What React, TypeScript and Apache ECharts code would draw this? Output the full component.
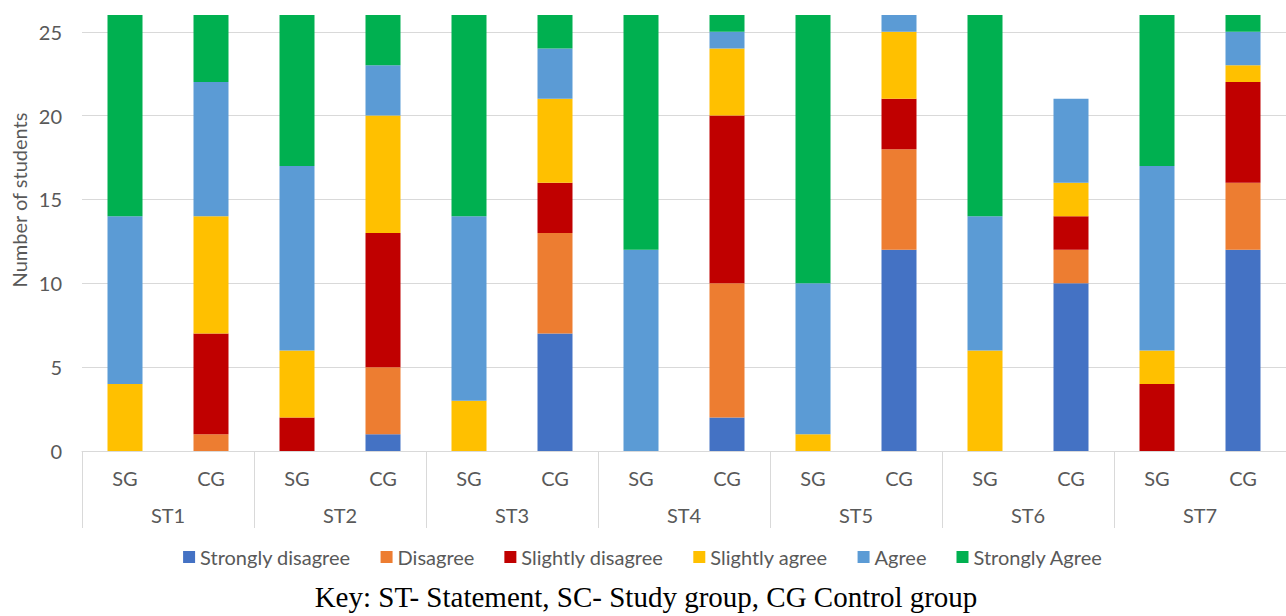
import React, { useEffect, useRef } from "react";
import * as echarts from "echarts";

const groupLabels = ["SG", "CG", "SG", "CG", "SG", "CG", "SG", "CG", "SG", "CG", "SG", "CG", "SG", "CG"];
const statements = ["ST1", "ST2", "ST3", "ST4", "ST5", "ST6", "ST7"];
const yTicks = [0, 5, 10, 15, 20, 25];

const seriesNames = ["Strongly disagree", "Disagree", "Slightly disagree", "Slightly agree", "Agree", "Strongly Agree"];
const seriesColors = ["#4472C4", "#ED7D31", "#C00000", "#FFC000", "#5B9BD5", "#00B050"];

const stronglyDisagree = [0, 0, 0, 1, 0, 7, 0, 2, 0, 12, 0, 10, 0, 12];
const disagree = [0, 1, 0, 4, 0, 6, 0, 8, 0, 6, 0, 2, 0, 4];
const slightlyDisagree = [0, 6, 2, 8, 0, 3, 0, 10, 0, 3, 0, 2, 4, 6];
const slightlyAgree = [4, 7, 4, 7, 3, 5, 0, 4, 1, 4, 6, 2, 2, 1];
const agree = [10, 8, 11, 3, 11, 3, 12, 1, 9, 1, 8, 5, 11, 2];
const stronglyAgree = [12, 4, 9, 3, 12, 2, 14, 1, 16, 0, 12, 0, 9, 1];

const seriesData = [stronglyDisagree, disagree, slightlyDisagree, slightlyAgree, agree, stronglyAgree];

const TXT = "#595959";
const GRID = "#D9D9D9";
const FONT = "Lato";

export default function App() {
  const ref = useRef<HTMLDivElement>(null);
  useEffect(() => {
    document.body.style.margin = "0";
    if (!ref.current) return;
    const chart = echarts.init(ref.current, undefined, { renderer: "svg" });
    chart.setOption({
      animation: false,
      backgroundColor: "#ffffff",
      textStyle: { fontFamily: FONT },
      grid: { left: 82, right: -5, top: 15, bottom: 165, containLabel: false },
      legend: {
        data: seriesNames,
        left: "center",
        top: 542,
        itemWidth: 12,
        itemHeight: 12,
        itemGap: 30,
        icon: "rect",
        textStyle: { color: TXT, fontSize: 20, fontFamily: FONT },
      },
      xAxis: [
        {
          type: "category",
          data: groupLabels,
          axisLine: { show: true, lineStyle: { color: GRID, width: 1 } },
          axisTick: { show: false },
          axisLabel: { color: TXT, fontSize: 20, fontFamily: FONT, margin: 17, interval: 0 },
        },
        {
          type: "category",
          data: statements,
          position: "bottom",
          axisLine: { show: false },
          axisTick: { show: true, length: 77, lineStyle: { color: GRID, width: 1 } },
          axisLabel: { color: TXT, fontSize: 20, fontFamily: FONT, margin: 54, interval: 0 },
        },
      ],
      yAxis: {
        type: "value",
        min: 0,
        max: 26,
        interval: 5,
        axisLine: { show: false },
        axisTick: { show: false },
        axisLabel: {
          color: TXT,
          fontSize: 20,
          fontFamily: FONT,
          margin: 20,
          showMaxLabel: false,
          formatter: (v: number) => (yTicks.includes(v) ? String(v) : ""),
        },
        splitLine: { show: true, showMaxLine: false, lineStyle: { color: GRID, width: 1 } },
      },
      graphic: [
        {
          type: "text",
          x: 19,
          y: 200,
          rotation: Math.PI / 2,
          style: {
            text: "Number of students",
            fill: TXT,
            fontSize: 20,
            fontFamily: FONT,
            textAlign: "center",
            textVerticalAlign: "middle",
          },
        },
        {
          type: "text",
          x: 646,
          y: 597,
          style: {
            text: "Key: ST- Statement, SC- Study group, CG Control group",
            fill: "#000000",
            fontSize: 29,
            fontFamily: "Liberation Serif",
            textAlign: "center",
            textVerticalAlign: "middle",
          },
        },
      ],
      series: seriesNames.map((name, i) => ({
        name,
        type: "bar",
        stack: "total",
        barWidth: 35,
        xAxisIndex: 0,
        itemStyle: { color: seriesColors[i] },
        data: seriesData[i],
      })),
    });
    return () => chart.dispose();
  }, []);
  return <div ref={ref} style={{ width: 1286, height: 616 }} />;
}
